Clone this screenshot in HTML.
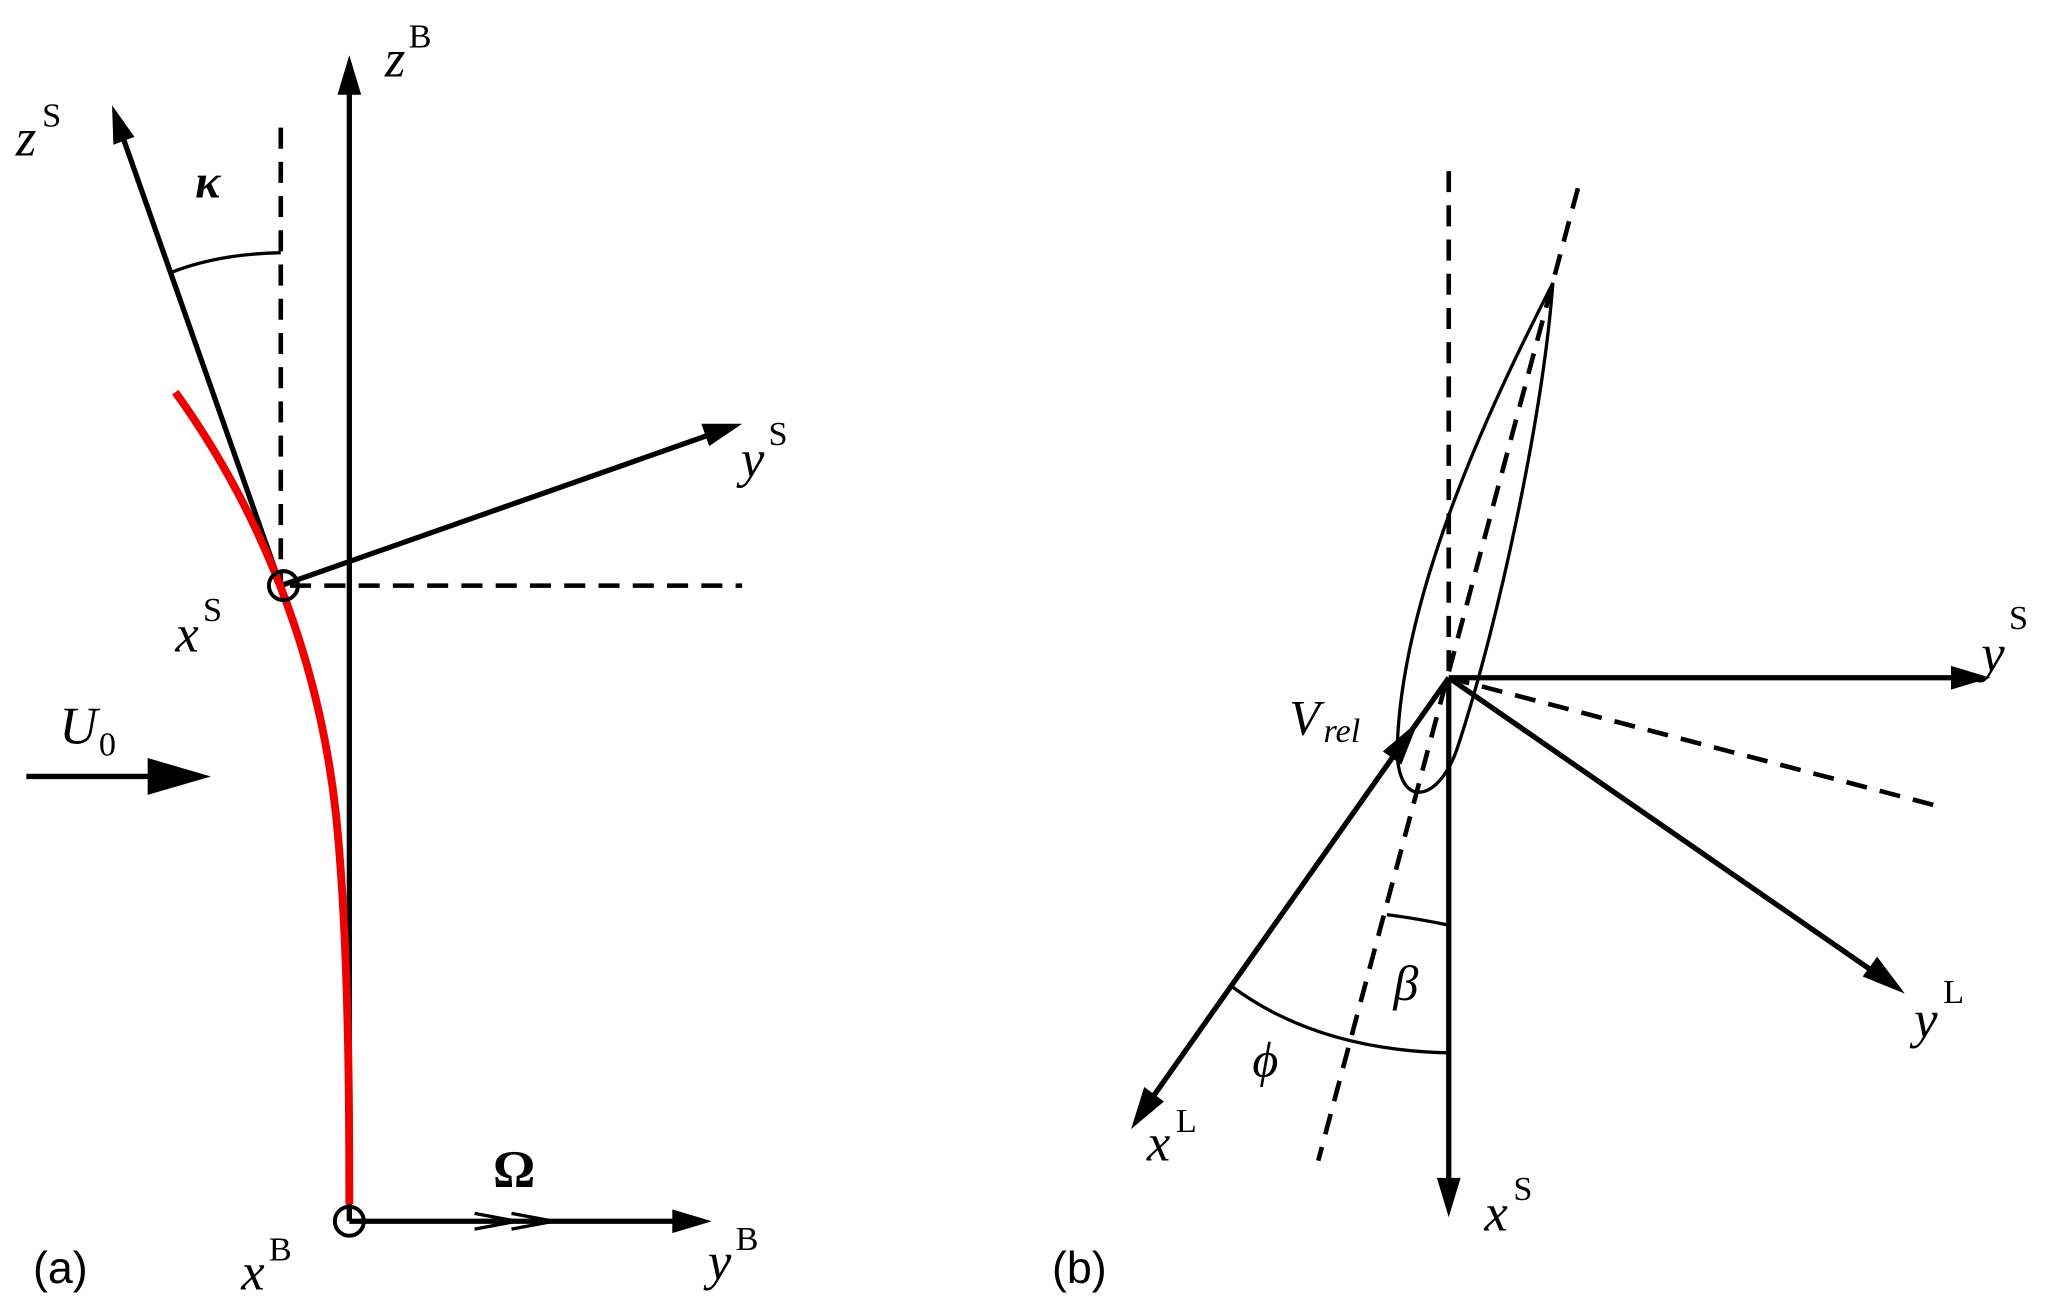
<!DOCTYPE html>
<html><head><style>html,body{margin:0;padding:0;background:#fff}svg{display:block}
text{font-family:"Liberation Serif",serif;font-style:italic;fill:#000}
.s{font-size:26px;font-style:normal}</style></head><body>
<svg width="2067" height="1316" viewBox="0 0 1568 1000" preserveAspectRatio="none" xmlns="http://www.w3.org/2000/svg">
<g stroke="#000" stroke-width="4" fill="none">
<line x1="265" y1="928" x2="265" y2="60"/>
<line x1="213" y1="445" x2="91" y2="98"/>
<line x1="213" y1="445" x2="545" y2="328"/>
<line x1="265" y1="928" x2="520" y2="928"/>
<line x1="20" y1="590" x2="120" y2="590"/>
<line x1="213" y1="97" x2="213" y2="445" stroke-dasharray="16,10" stroke-width="3.5"/>
<line x1="220" y1="445" x2="563" y2="445" stroke-dasharray="16,10" stroke-width="3.5"/>
<path d="M130,207 Q165,193 213,192" stroke-width="2.5"/>
<path d="M133,298 C185,370 240,480 255,620 C265,720 265,850 265,915" stroke="#e00" stroke-width="6"/>
<circle cx="215" cy="445" r="11" stroke-width="3"/>
<circle cx="265" cy="928" r="11" stroke-width="3"/>
<path d="M360,922 L392,928 L360,934 M388,922 L420,928 L388,934" stroke-width="2.5"/>
<line x1="1099" y1="130" x2="1099" y2="515" stroke-dasharray="16,10" stroke-width="3.5"/>
<line x1="1197" y1="143" x2="1000" y2="882" stroke-dasharray="16,10" stroke-width="3.5"/>
<line x1="1099" y1="515" x2="1468" y2="612" stroke-dasharray="16,10" stroke-width="3.5"/>
<path d="M1178,215 C1140,290 1065,440 1060,565 C1058,615 1090,612 1105,570 C1135,480 1170,320 1178,215 Z" stroke-width="2.5"/>
<line x1="1099" y1="515" x2="1099" y2="900"/>
<line x1="1099" y1="515" x2="1485" y2="515"/>
<line x1="1099" y1="515" x2="1425" y2="741"/>
<line x1="1099" y1="515" x2="870" y2="840"/>
<path d="M1052,695 Q1075,698 1099,703" stroke-width="2.5"/>
<path d="M935,750 Q1000,798 1099,800" stroke-width="2.5"/>
</g>
<g fill="#000">
<polygon points="265,42 256,72 274,72"/>
<polygon points="85,80 86,110 102,104"/>
<polygon points="563,322 532,322 538,339"/>
<polygon points="540,928 510,919 510,937"/>
<polygon points="160,590 112,576 112,604"/>
<polygon points="1099,925 1090,895 1108,895"/>
<polygon points="1510,515 1480,506 1480,524"/>
<polygon points="1445,755 1413,742 1424,727"/>
<polygon points="858,858 868,826 883,837"/>
<polygon points="1076,548 1063,581 1049,571"/>
</g>
<text x="292" y="58" font-size="40">z</text><text x="310" y="36" class="s">B</text>
<text x="12" y="118" font-size="40">z</text><text x="32" y="96" class="s">S</text>
<text x="148" y="150" font-size="36" font-weight="bold">κ</text>
<text x="562" y="362" font-size="40">y</text><text x="583" y="338" class="s">S</text>
<text x="133" y="495" font-size="40">x</text><text x="154" y="472" class="s">S</text>
<text x="45" y="565" font-size="40">U</text><text x="75" y="574" class="s">0</text>
<text x="374" y="902" font-size="40" font-weight="bold" style="font-style:normal">Ω</text>
<text x="183" y="980" font-size="40">x</text><text x="204" y="958" class="s">B</text>
<text x="537" y="972" font-size="40">y</text><text x="558" y="950" class="s">B</text>
<text x="25" y="975" font-size="34" style="font-family:'Liberation Sans',sans-serif;font-style:normal">(a)</text>
<text x="1503" y="510" font-size="40">y</text><text x="1524" y="478" class="s">S</text>
<text x="978" y="558" font-size="38">V</text><text x="1004" y="564" font-size="26">rel</text>
<text x="1057" y="760" font-size="38">β</text>
<text x="950" y="818" font-size="38">ϕ</text>
<text x="1452" y="788" font-size="40">y</text><text x="1474" y="762" class="s">L</text>
<text x="870" y="882" font-size="40">x</text><text x="892" y="860" class="s">L</text>
<text x="1126" y="935" font-size="40">x</text><text x="1148" y="912" class="s">S</text>
<text x="798" y="975" font-size="34" style="font-family:'Liberation Sans',sans-serif;font-style:normal">(b)</text>
</svg>
</body></html>
